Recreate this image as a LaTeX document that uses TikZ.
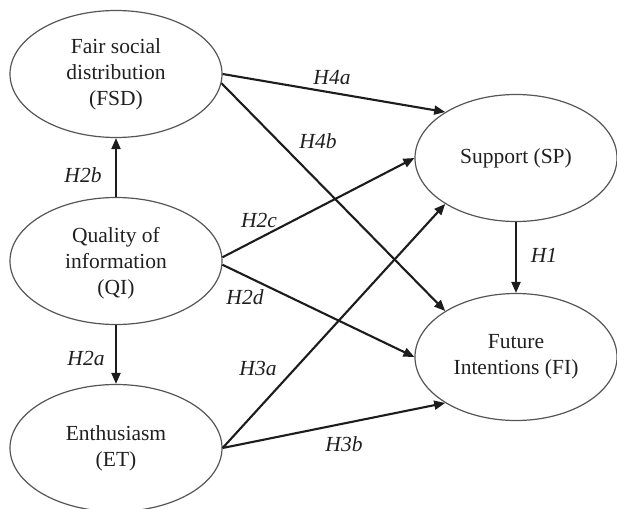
\documentclass[tikz,border=0pt]{standalone}
\usepackage{fontspec}
\setmainfont{Liberation Serif}
\usetikzlibrary{shapes.geometric,arrows.meta}
\definecolor{ringgray}{RGB}{85,85,85}
\definecolor{arrowdark}{RGB}{28,28,28}
\tikzset{
  construct/.style={ellipse, draw=ringgray, line width=1.2pt, inner sep=0pt,
    minimum width=212pt, minimum height=127pt, align=center,
    font=\fontsize{21.5}{26}\selectfont, text=black!88},
  path/.style={draw=arrowdark, line width=2.1pt,
    -{Triangle[length=11pt,width=9pt]}},
  hyp/.style={font=\fontsize{21.5}{26}\selectfont\itshape, text=black!88, inner sep=0pt}
}
\begin{document}
\begin{tikzpicture}[x=1pt,y=-1pt]
\useasboundingbox (0,0) rectangle (617,508);
\node[construct] (fsd) at (116,74) {Fair social\\distribution\\(FSD)};
\node[construct, text depth=-4pt] (qi) at (116,261) {Quality of\\information\\(QI)};
\node[construct] (et) at (116,448) {Enthusiasm\\(ET)};
\node[construct, minimum width=202pt] (sp) at (516,158) {Support (SP)};
\node[construct, minimum width=202pt] (fi) at (516,357) {Future\\Intentions (FI)};

\draw[path] (qi.north) -- (fsd.south);
\draw[path] (qi.south) -- (et.north);
\draw[path] (fsd.east) -- (sp.147);
\draw[path] (fsd.-5) -- (fi.147);
\draw[path] (qi.2) -- (sp.west);
\draw[path] (qi.-2) -- (fi.west);
\draw[path] (et.east) -- (sp.213);
\draw[path] (et.east) -- (fi.213);
\draw[path] (sp.south) -- (fi.north);

\node[hyp] (h4a) at (332,78) {H4a};
\node[hyp] (h4b) at (318,141) {H4b};
\node[hyp] (h2b) at (83,175) {H2b};
\node[hyp] (h2c) at (259,220) {H2c};
\node[hyp] (h2d) at (245,297) {H2d};
\node[hyp] (h2a) at (86,358) {H2a};
\node[hyp] (h3a) at (258,368) {H3a};
\node[hyp] (h3b) at (344,444) {H3b};
\node[hyp] (h1) at (544,255) {H1};
\end{tikzpicture}
\end{document}
